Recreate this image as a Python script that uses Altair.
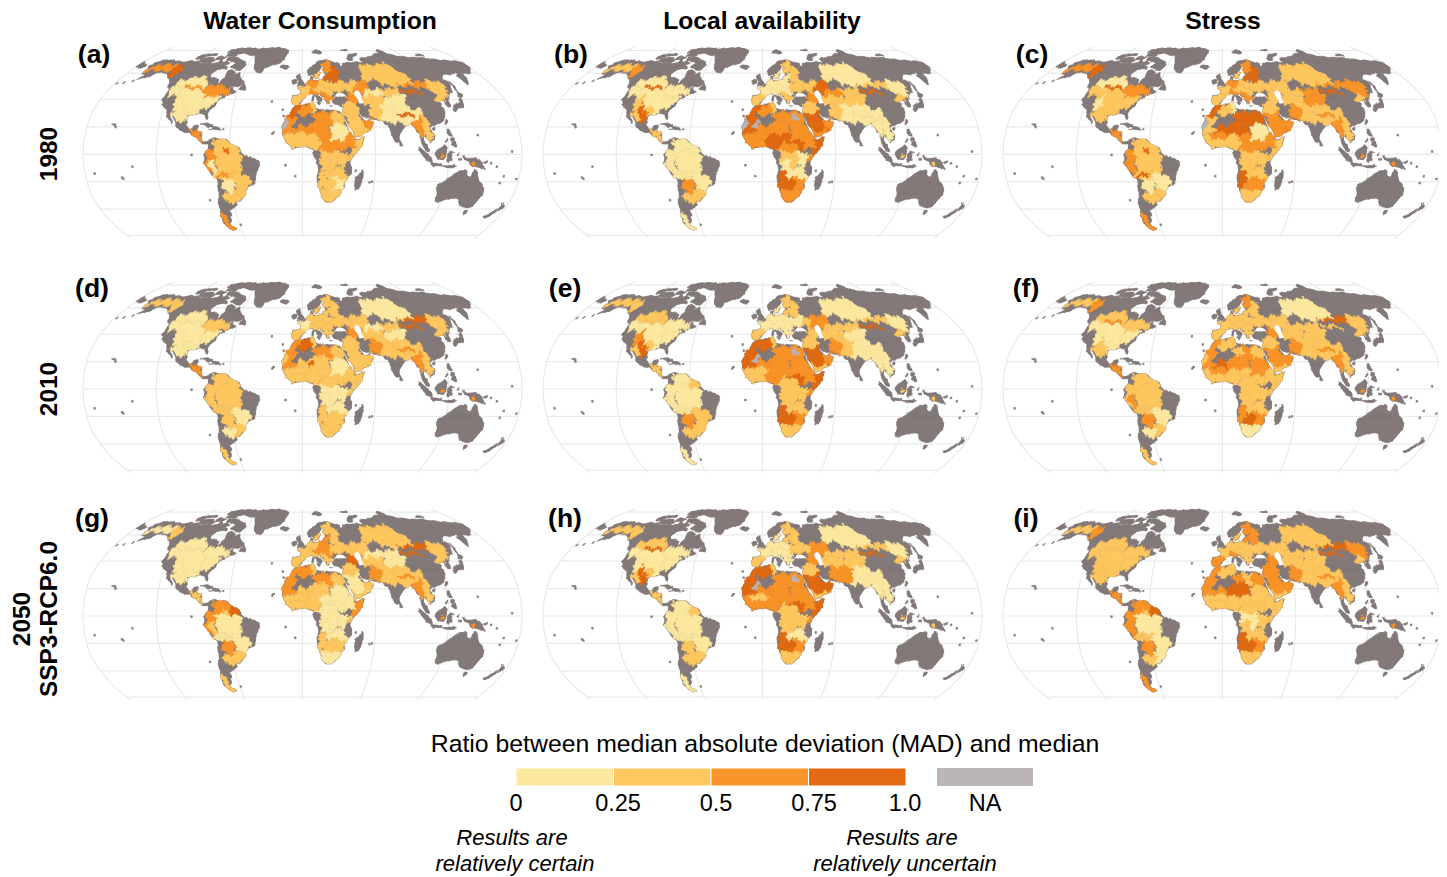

import numpy as np
import altair as alt

# ---- panel text -------------------------------------------------------------
COL_TITLES = ["Water Consumption", "Local availability", "Stress"]
PANEL_TAGS = ["(a)", "(b)", "(c)", "(d)", "(e)", "(f)", "(g)", "(h)", "(i)"]
LEGEND_TITLE = "Ratio between median absolute deviation (MAD) and median"
LEGEND_TICKS = ["0", "0.25", "0.5", "0.75", "1.0"]
CLASSES = ["0", "1", "2", "3", "n", "g"]
COLOURS = ["#FDE8A0", "#FEC760", "#FA9529", "#E26A12", "#BBB5B5", "#857A7A"]

# ---- Robinson table ---------------------------------------------------------
ROB_LAT = list(range(0, 95, 5))
ROB_PLEN = [1, .9986, .9954, .99, .9822, .973, .96, .9427, .9216, .8962, .8679, .835, .7986, .7597, .7186, .6732, .6213, .5722, .5322]
ROB_PDFE = [0, .062, .124, .186, .248, .31, .372, .434, .4958, .5571, .6176, .6769, .7346, .7903, .8435, .8936, .9394, .9761, 1]

def rob(lon, lat):
    a = abs(lat)
    x = 219.5 * float(np.interp(a, ROB_LAT, ROB_PLEN)) * lon / 180
    y = 110.5 * float(np.interp(a, ROB_LAT, ROB_PDFE)) * (1 if lat >= 0 else -1)
    return [round(x, 2), round(-y, 2)]

# ---- land outlines (lon, lat) ----------------------------------------------
LAND = [
 [(-168,65.5),(-164,66.5),(-166,68.5),(-157,71),(-150,70.5),(-141,69.7),(-135,69),(-128,70),(-120,69.5),(-115,68),(-108,68),(-102,68),(-95,68),(-94,72),(-90,69),(-85,69.5),(-81,68),(-86,66),(-87,64),(-92,62),(-94,59),(-92,57),(-86,55.5),(-82,55),(-82,52.5),(-79.5,51.5),(-79,54),(-77,56),(-78,59),(-78,62),(-73,62),(-70,61),(-69,58.5),(-65,60),(-61,56),(-57,53),(-56,51.5),(-60,50),(-66,50),(-70,47),(-65,49),(-65,47),(-61,46),(-64,44.5),(-66,44),(-70,43.5),(-70,41.7),(-74,40.6),(-75.5,38),(-76,35),(-78,34),(-81,32),(-81,30),(-80,27),(-80.5,25.2),(-82,26.5),(-83,29),(-85,29.7),(-89,30),(-90,29),(-94,29.5),(-97,28),(-97.5,25),(-97.8,22),(-96,19),(-94,18),(-91,18.8),(-90.5,21),(-87,21.5),(-88,18),(-88.5,16),(-84,15.8),(-83.3,15),(-83.5,11),(-82,9),(-80,9.3),(-77.5,8.7),(-78,7.5),(-80,7.5),(-83,8.2),(-85.5,10),(-87.5,13),(-91,14),(-94,16),(-97,15.8),(-102,18),(-105.5,20),(-105.5,22.5),(-109,26),(-112.5,30),(-114.7,31.5),(-112,27),(-109.5,23),(-112,25),(-115,28.5),(-117,32.5),(-120.5,34.5),(-122.5,37.5),(-124.3,40.5),(-124,46),(-123,49),(-127,51),(-130,54.5),(-133,57),(-137,58.5),(-140,60),(-146,61),(-151,60),(-153,58),(-158,56.5),(-163,55),(-158,58.5),(-162,59),(-165,61),(-165,63),(-161,64)],
 [(-62,66),(-66,62),(-72,63.5),(-78,65),(-74,68),(-80,70),(-88,71),(-88,73.5),(-80,73.5),(-72,71.5),(-68,70),(-62,67)],
 [(-117,69.5),(-105,68.5),(-101,70),(-105,73),(-114,73),(-118,71)],
 [(-125,72),(-118,72),(-116,74),(-122,76),(-125,74)],
 [(-90,76.5),(-78,76.5),(-72,78.5),(-62,82),(-70,83),(-85,82.5),(-92,81),(-90,79)],
 [(-92,74.5),(-80,74.5),(-80,75.5),(-92,76.5)],
 [(-118,75),(-105,75),(-105,76.5),(-118,76.5)],
 [(-102,71),(-94,71.5),(-90,73.5),(-100,74)],
 [(-96,78),(-86,78),(-88,81),(-94,81)],
 [(-87,63.5),(-80,63.5),(-82,65.5),(-86,65.5)],
 [(-59,48),(-56,51.5),(-53,48),(-53,46.7),(-59,47.5)],
 [(-128,50.5),(-125,50),(-123.5,48.5),(-125,48.7)],
 [(-73,78),(-68,76),(-58,75.5),(-54,70),(-52,65),(-48,61),(-43,60),(-40,65),(-25,68.5),(-22,71),(-20,75),(-18,80),(-25,82),(-32,83.5),(-50,82.5),(-62,81.5),(-68,80)],
 [(-24,65.5),(-22,64),(-18,63.4),(-14,65),(-16,66.4),(-22,66.3)],
 [(-85,22),(-80,23),(-75,20.5),(-74.5,20),(-78,20),(-82,22)],
 [(-74.5,19.8),(-70,19.8),(-68.5,18.5),(-71.5,18),(-74.5,18.3)],
 [(-78.4,18.4),(-76.3,18.2),(-77,17.7)],
 [(-67.2,18.5),(-65.6,18.4),(-65.8,17.9),(-67.2,18)],
 [(-160,22.2),(-157,21.6),(-155,20),(-155.8,18.9),(-156.5,20.5),(-158,21.2),(-160,21.8)],
 [(-180,69),(-173,67),(-170,66),(-173,64.5),(-180,65)],
 # South America
 [(-77.5,8.7),(-75.5,10.8),(-72,12),(-70,11.5),(-68,10.8),(-62,10.7),(-60,8.5),(-57,6),(-52,5),(-50,1),(-48,-1),(-44,-2.5),(-40,-3),(-36,-5),(-35,-8),(-38.5,-13),(-39,-18),(-41,-22),(-45,-23.5),(-48.5,-26),(-48.7,-28.5),(-52,-32.5),(-54,-34.5),(-58,-34.3),(-57,-37),(-62,-39),(-65,-41),(-65,-45),(-67.5,-46.5),(-66,-48),(-69,-51),(-68.5,-52.5),(-65,-55),(-69,-55.5),(-72,-54),(-75,-50),(-74,-45),(-73,-40),(-73.5,-37),(-71.5,-32),(-71,-28),(-70.5,-20),(-71,-18),(-76,-14),(-78,-10),(-81,-6),(-80,-3),(-81,-1),(-80,1),(-78,2.5),(-77.3,5),(-77.5,7)],
 # Africa
 [(-6,35.8),(-2,35.2),(3,36.8),(10,37.3),(11,34),(15,32.5),(20,31),(20,32.8),(25,32),(32,31.3),(34,28),(37,21),(39,15.5),(43,12),(44,10.5),(51,12),(49,7),(45,2),(41,-2),(39,-6),(40.5,-14),(35,-20),(35.5,-24),(32.8,-26),(32,-29),(27,-34),(20,-34.8),(18,-33),(15,-27),(12,-18),(13.5,-12),(12,-5),(9,-1),(9.7,3.5),(6,4.3),(2,6.3),(-4,5),(-8,4.4),(-13,8.5),(-17,14.7),(-16,19),(-17,21),(-13,27),(-10,30),(-9,33)],
 [(49.5,-12),(50.5,-16),(47.5,-25),(45,-25.5),(43.5,-22),(44.5,-16.5),(47,-15)],
 # Eurasia
 [(-5.5,36),(-9,37),(-9.5,39),(-9,43),(-2,43.5),(-1,46),(-4.7,48.5),(-1,49),(2,51),(4,52),(8,54),(8.5,57),(10.5,57.5),(10,54.5),(14,54),(19,54.5),(21,57),(24,59.3),(30,60),(23,60),(21,62),(25,65.5),(22,65.8),(17,62),(18,60),(16,56.5),(13,55.5),(11,59),(6,58),(5,62),(12,66),(17,69.5),(25,71),(31,70),(41,67.5),(40,65),(35,64.5),(37,63.5),(44,66),(44,68),(54,68.7),(60,69),(68,68.5),(67,72),(73,73),(80,73.5),(87,75.5),(100,78.5),(113,74.5),(128,73),(140,73),(160,70.5),(170,70),(180,69),(180,65),(177,62.5),(170,60),(163,60),(163,56),(157,51),(156,57),(160,61),(155,59.5),(143,59),(135,54.5),(140,54),(141,52),(137,46),(132,43),(129,40),(129.5,36),(126.5,34.5),(126,37),(125,39.5),(122,39),(118,39),(122,37),(120,35),(122,31),(121,28),(117,23.5),(110,21),(108,21.5),(106,19),(109,14),(109,11.5),(105,8.7),(105,10),(100.5,13.5),(99.5,10),(103.5,4),(104,1.5),(101,3),(98,8),(98,15),(95,16),(94,19),(91,22.5),(87,21.5),(82,16.5),(80,14),(80,10),(78,8.3),(76,10),(73,17),(72.5,21),(69,22),(67,25),(61,25.3),(57,26),(56,27),(51,28),(48.5,30),(48,29.5),(50,26.5),(51.5,25),(54,24),(56.3,26),(56.5,24.5),(59.5,22.5),(55,17),(45,13),(43,13),(42,17),(39,21),(35,28),(34.5,31.5),(36,36),(32,36),(28,36.6),(26.5,39),(29,41),(35,42),(41,41.5),(37,45),(33,46),(28,42),(26,40.5),(23,40),(24,38),(22.5,36.5),(19.5,41),(13.5,45.5),(12.5,44),(18,40.5),(16,38),(12,42),(8.5,44.3),(3.5,43.5),(0,39.5),(-2,36.8)],
 [(-5.5,50),(1,51),(1.5,52.8),(-1.5,55),(-2,57.5),(-3.5,58.6),(-6,58),(-5,55),(-3,53.5),(-5,52),(-3,51.3)],
 [(-10,52),(-6,52),(-6,55),(-8.5,55),(-10,54)],
 [(8.3,39),(9.7,39),(9.7,43),(8.6,42)],
 [(12.5,38),(15.5,38.2),(15,36.7)],
 [(23.5,35.6),(26.3,35.3),(24,35)],
 [(32.5,35),(34.5,35.6),(33.5,34.6)],
 [(12,78),(20,76.7),(25,78),(22,80),(15,80)],
 [(52,71),(57,70.7),(60,74),(68,76.5),(65,77),(55,75),(52,72.5)],
 [(95,79),(105,78),(100,81)],
 [(137,75),(148,75),(145,76.5)],
 [(50,80),(60,80),(58,81.5)],
 [(142,54),(143,50),(143,46),(142,46.5),(142,50)],
 [(131,34),(136,34),(140,35),(142,39.5),(141,41.5),(139.5,38.5),(136,36.5),(132,35.5)],
 [(140,42),(143,42),(145.5,43.5),(142,45.5),(141,43.5)],
 [(130,31.5),(130,33.5),(132,33.5),(134.5,34),(134,33),(131.5,31)],
 [(120,23),(121,25),(122,25),(121,22)],
 [(108.7,19),(110.5,20),(110.5,18.5),(109,18.2)],
 [(80,9.5),(82,7.5),(81,6),(80,6.2)],
 [(120,16),(120.5,18.5),(122,18.5),(122,16),(124,13),(121,13.8)],
 [(122,7),(124,9),(126,9.5),(126.5,6.5),(125,5.8)],
 [(122,10),(125,12.5),(125.5,10.5),(123,9.2)],
 [(117.5,8.5),(119.5,11.5),(120,11),(118,8.5)],
 [(109,1.5),(111,2),(114,4.5),(117,7),(119,5),(118,2),(117.5,0),(116,-4),(111,-3.5),(109.5,-1)],
 [(95.5,5.5),(98,4),(104,-1.5),(106,-3),(106,-6),(102,-4.5),(99,-1),(96,3)],
 [(105.5,-6.5),(110,-6.5),(114.5,-7.7),(114.5,-8.7),(106,-7.6)],
 [(115,-8.5),(120,-8.3),(125,-8.3),(127,-8.5),(124,-10),(119,-9.5)],
 [(119,-5.5),(119,0.5),(121,1.3),(125,1.5),(121,0),(123,-1),(121,-2.5),(123,-5),(121,-4)],
 [(127,-1),(128.5,1.5),(128,-1)],
 [(128,-3),(130.5,-3),(130.5,-3.8),(128,-3.6)],
 [(131,-1),(135,-3.5),(141,-2.5),(147,-6),(150.5,-10.5),(147,-10),(143,-9),(138,-8),(138,-5.5),(133,-4)],
 [(148,-6),(152,-4.5),(152,-6)],
 [(114,-22),(122,-18),(126,-14),(130,-12),(136,-12),(136,-15),(140,-17.5),(142,-11),(145,-15),(147,-19),(153,-25),(153,-30),(150,-37),(146,-39),(143,-38.7),(140,-38),(136,-35),(135,-33),(131,-31.5),(124,-33),(120,-34),(115,-34.5),(115,-30),(113.5,-26)],
 [(144.7,-41),(148,-41),(148,-43),(146,-43.5)],
 [(166.5,-46),(171,-42),(173,-40.7),(174.3,-42),(171,-45),(169,-46.7)],
 [(173,-35),(175.5,-37),(178.5,-38),(175.5,-41.5),(174,-39.5),(175,-37.5)],
]
SMALL_ISLANDS = [(-150,-17),(-172,-14),(178,-18),(-91,-0.5),(-59,-51.7),(-24,16),(-16,28),(-27,38.5),(56,-20.5),(44,-12),(165,-21),(160,-9),(167,-16),(-172,52.5),(-178,52),(-165,54),(-80,-33.5),(-149,-17.8),(-140,-9),(-25,15),(-17,32.5),(58,-20),(-14,-8),(-6,-15.9),(155,-6.5),(172,2),(145,14)]
WATER = [[(47.5,45.5),(51,46.8),(53,44),(52.5,41),(54,37.5),(50,37),(49.5,40),(47.5,43)]]

# ---- basins, painted in order; codes read panel a..i ------------------------
BASINS = [
 ("yukon","212111011",[(-166,61),(-166,64),(-155,66.5),(-142,67),(-136,66),(-136,61),(-145,62),(-155,62.5)]),
 ("mackenzie","323112112",[(-137,67),(-128,66),(-127,60),(-130,57),(-135,58),(-137,62)]),
 ("nelson","000011011",[(-122,50),(-118,54),(-108,56),(-100,57.5),(-92,55),(-91,48),(-100,48),(-112,48)]),
 ("missouri","001000001",[(-122,50),(-122,42),(-112,36),(-100,33),(-88,33),(-87,41),(-91,48),(-112,48)]),
 ("columbia","001000001",[(-122,50),(-122,42),(-112,42),(-112,49)]),
 ("border","233012031",[(-112,48.6),(-93,48),(-93,49.3),(-112,49.8)]),
 ("lakes","202101001",[(-92,48),(-85,50.5),(-78,50.5),(-70,49),(-65,48),(-68,45),(-75,43),(-80,41),(-87,41)]),
 ("ohio","001000001",[(-90,36),(-87,41),(-78,43),(-74,41),(-76,38),(-80,36),(-85,33),(-88,32)]),
 ("lower_miss","001000001",[(-100,33),(-88,33),(-88,29),(-94,28),(-98,30)]),
 ("texas","011010011",[(-104,34),(-95,34),(-94,29),(-98,26),(-101,28)]),
 ("colorado","010020001",[(-114,32),(-113,40),(-107,43),(-105,37),(-108,31)]),
 ("riogrande","031031031",[(-108,31),(-105,37),(-103,33),(-98,28),(-97,25),(-103,24)]),
 ("greatbasin","ggggggggg",[(-125,33),(-125,42),(-115,42),(-112,38),(-114,33)]),
 ("yaqui","011011011",[(-112,30),(-106,31),(-104,24),(-108,24)]),
 ("centam","212212112",[(-93,18),(-88,17.5),(-84,15),(-83,10),(-85,9.5),(-92,14)]),
 # South America
 ("amazon_c","101101000",[(-72,2),(-52,2),(-50,-4),(-51,-14),(-60,-16),(-70,-14)]),
 ("guiana_w","101101202",[(-74,8),(-72,11),(-62,11),(-58,6),(-64,1),(-72,2)]),
 ("guiana_e","101111313",[(-60,7),(-51,6),(-50,1),(-56,0.5),(-60,2)]),
 ("amazon_w","202101202",[(-78,3),(-72,3),(-72,-7),(-70,-14),(-76,-14),(-80,-5)]),
 ("peru","002102102",[(-78,-5),(-73,-5),(-69,-17),(-73,-15)]),
 ("orinoco_c","303101101",[(-64,5),(-60,5),(-60,1.5),(-64,1.5)]),
 ("madeira_s","101101001",[(-72,-13),(-58,-13),(-58,-20),(-66,-21),(-70,-18)]),
 ("bolivia","203101001",[(-70,-17),(-60,-15),(-60,-13.5),(-70,-15)]),
 ("parana_n","100010000",[(-58,-15),(-51,-13),(-45,-17),(-42,-22),(-48,-26),(-55,-26),(-57,-21)]),
 ("paraguay","020122212",[(-66,-18),(-58,-18),(-57,-26),(-62,-30),(-67,-26)]),
 ("chaco","111010111",[(-68,-28),(-62,-30),(-57,-26),(-56,-31),(-60,-35),(-66,-35)]),
 ("uruguay","111111110",[(-57,-26),(-48,-26),(-49,-31),(-54,-35),(-60,-35),(-56,-31)]),
 ("patagonia","202101102",[(-74,-42),(-71,-42),(-70,-48),(-67,-52),(-65,-55),(-70,-56),(-75,-50)]),
 # Africa
 ("morocco","333232232",[(-18,27),(-10,36),(-2,36),(-2,31),(-8,27),(-13,26)]),
 ("mauritania","231232232",[(-18,15),(-18,27),(-8,27),(-3,25),(-5,18),(-10,15)]),
 ("algeria","221331231",[(-2,36),(8,37),(8,30),(2,28),(-4,29),(-2,31)]),
 ("tunis","110111111",[(8,37),(11,37),(12,30),(8,30)]),
 ("libya_w","223221222",[(12,31),(18,30),(18,22),(10,22),(9,28)]),
 ("libya_e","223222221",[(18,31),(25,31),(25,22),(18,22)]),
 ("egypt","123121122",[(25,31),(34,31),(36,22),(25,22)]),
 ("egypt_na","1n31n11n2",[(26,24),(26,29),(30,29),(30,24)]),
 ("nile","020022021",[(25,22),(37,22),(38,15),(34,10),(24,10),(23,15)]),
 ("mali","223123122",[(-10,15),(-5,18),(-3,24),(4,21),(5,15),(3,12),(-8,12)]),
 ("sahel_w","122112111",[(-12,11),(-12,15),(-3,16),(5,15),(3,11),(-5,10)]),
 ("niger","223122123",[(4,21),(10,25),(16,24),(23,22),(23,15),(14,14),(5,15)]),
 ("air","223322123",[(6,17),(6,20),(10,20),(10,17)]),
 ("chad","232121021",[(14,14),(23,15),(24,10),(16,8),(13,10)]),
 ("wacoast","121111121",[(-18,10),(-18,15),(-12,14),(-5,10),(3,11),(3,4),(-8,3)]),
 ("nigeria","131121121",[(3,4),(3,11),(5,15),(14,14),(13,10),(16,8),(13,4)]),
 ("ssudan","232131031",[(16,8),(24,10),(34,10),(35,4),(27,3),(18,4)]),
 ("ethiopia","222121021",[(34,10),(38,15),(44,12),(43,6),(36,3),(35,4)]),
 ("somalia","131131231",[(44,12),(52,12.5),(50,5),(42,-2),(40,1),(41,4),(43,6)]),
 ("congo","111011010",[(14,4),(27,3),(31,2),(31,-8),(22,-11),(15,-6)]),
 ("ubangi","222111011",[(14,4),(16,8),(24,9),(30,4),(27,2),(18,2)]),
 ("kasai","101011011",[(15,-5),(22,-4),(24,-11),(20,-13),(15,-12)]),
 ("zambezi","101011001",[(20,-12),(33,-9),(36,-12),(38,-18),(34,-21),(22,-18),(20,-14)]),
 ("rift","101011011",[(29,2),(35,1),(38,-1),(36,-8),(33,-9),(29,-8)]),
 ("kenya_c","121121121",[(38,-1),(42,-2),(41,-5),(38,-5)]),
 ("kenya_g","ggggggggg",[(35,1),(36,3),(41,4),(41,0),(38,-1)]),
 ("tanz_g","ggggggggg",[(34,-8),(38,-4.5),(41,-6),(41,-12),(36,-12),(34,-10)]),
 ("namibia","133132133",[(13,-24),(14,-13),(20,-13),(20,-18),(18,-24)]),
 ("kalahari","132133133",[(18,-24),(20,-18),(26,-17),(28,-22),(26,-26),(20,-27)]),
 ("limpopo","022122122",[(26,-17),(34,-18),(36,-24),(32,-27),(26,-26),(28,-22)]),
 ("orange","121110011",[(14,-24),(20,-27),(26,-26),(32,-27),(33,-30),(28,-35),(18,-35),(15,-28)]),
 ("sah_g","ggggggggg",[(-5,23),(-4,27),(6,28),(10,25),(4,21),(0,21)]),
 ("sah_na","gnggnggng",[(-8,20),(-6,24),(-2,24),(-3,20)]),
 ("coast_na","nnn131232",[(-18,19),(-18,25),(-13,25),(-13,19)]),
 # Europe
 ("iberia","111111112",[(-10,36),(-10,44.5),(3,44),(1,38),(-3,36)]),
 ("france","101001101",[(-5,44),(-5,49),(3,51),(8,48),(7,44),(3,43)]),
 ("germany","202101101",[(3,51),(9,55),(15,55),(15,50),(8,47),(8,48)]),
 ("po","202101102",[(7,44),(8,47),(14,47),(14,44.5),(10,43)]),
 ("danube","101101201",[(8,47),(15,50),(24,49),(29,46),(29,43),(22,44),(14,44.5),(14,47)]),
 ("balkan","212101101",[(14,45),(22,44),(27,42),(24,37),(20,39)]),
 ("poland","101101201",[(15,50),(15,55),(25,56),(26,51),(24,49)]),
 ("balt","303111212",[(21,55),(21,59.5),(28,59.5),(28,55)]),
 ("karelia","313111112",[(28,53),(28,60),(33,66),(37,62),(36,56),(33,53)]),
 ("dnieper","111101111",[(24,49),(26,51),(33,54),(38,53),(39,47),(29,45)]),
 ("don","111111111",[(38,53),(45,53),(45,46),(39,46),(39,47)]),
 ("sweden","101101101",[(13,56),(13,60),(19,62),(19,57)]),
 ("finland","212112112",[(21,61),(21,69),(29,70),(31,64),(29,61)]),
 ("volga","111121121",[(45,53),(52,54),(54,46),(47,44),(43,45),(45,46)]),
 ("caucasus","221212322",[(39,41),(43,45),(47,44),(52,40),(48,38),(42,38)]),
 ("levant","111111112",[(34,30),(34,37),(42,38),(48,38),(48,31),(42,28)]),
 ("arabia","132132032",[(35,29),(42,29.5),(48,31),(49,24),(52,22),(55,18),(45,16),(41,18)]),
 ("oman","222122132",[(52,22),(49,24),(52,25),(57,27),(60,22),(55,17)]),
 ("yemen","122111111",[(43,12),(41,18),(45,16),(55,18),(52,14)]),
 # Asia
 ("helmand","112222222",[(58,27),(58,37),(67,36),(69,29),(66,25)]),
 ("amu","111111111",[(52,37),(52,43),(60,44),(72,42),(73,36),(67,36),(58,37)]),
 ("syr","021011011",[(55,42),(55,47),(72,48),(74,42),(60,44)]),
 ("ural","231121121",[(47,46),(52,54),(60,54),(62,47),(55,47),(54,44)]),
 ("siberia","101000101",[(60,54),(60,62),(64,68),(72,66),(80,66.5),(88,68.5),(95,66),(100,60),(107,57),(105,52),(95,51),(88,50),(76,48),(74,55)]),
 ("kz_g","ggggggggg",[(62,50),(70,51),(84,50),(84,47.5),(72,48.5),(64,48)]),
 ("balkhash","112111011",[(72,48),(84,47.5),(88,50),(90,45),(82,42),(74,42)]),
 ("tarim","012001011",[(74,42),(82,42),(90,45),(93,42),(90,37),(78,35),(73,36)]),
 ("indus","001111121",[(66,25),(69,29),(67,36),(73,36),(78,35),(78,30),(74,24),(68,23)]),
 ("himal","001101101",[(78,35),(90,37),(92,33),(100,33),(104,28),(97,26),(86,27),(78,28)]),
 ("ganges","001101101",[(74,24),(78,30),(86,27),(97,26),(92,22),(86,21),(80,23)]),
 ("streak","302202202",[(80,28.5),(90,27.5),(95,28),(95,29.5),(85,30)]),
 ("salween","202202202",[(92,23),(97,26),(100,28),(101,20),(99,13),(97,16),(94,16)]),
 ("mekong","101101101",[(100,28),(104,28),(106,22),(108,13),(105,9),(100,14),(101,20)]),
 ("mong_n","212313313",[(88,50),(95,51),(105,52),(118,54),(125,50),(118,48),(105,49),(95,49.5)]),
 ("mong_g","ggggggggg",[(90,44),(93,49.5),(105,49),(112,46),(108,43),(96,43)]),
 ("mong_s","333331333",[(91,46),(100,47),(109,45.5),(109,44),(100,45.2),(91,44.5)]),
 ("amur","102101102",[(118,54),(128,54),(135,50),(134,46),(128,42),(122,44),(118,48)]),
 ("liao","111111111",[(119,38),(119,43),(126,43),(126,39)]),
 ("kalimantan","212212212",[(113,-3.5),(113,-0.5),(116,-0.5),(116,-3.5)]),
 ("papua","212212212",[(140,-8),(140,-5),(143,-5),(143,-8)]),
]

# ---- rasterise the basins onto the land --------------------------------------
STEP = 0.75
LONS = np.arange(-180, 180, STEP) + STEP / 2
LATS = np.arange(-60, 85, STEP) + STEP / 2
GX, GY = np.meshgrid(LONS, LATS)
# sampling offsets that roughen the hand-drawn straight edges into irregular ones
WX = np.sin(0.7 * GY + 1.3 * np.sin(0.31 * GX)) + 0.55 * np.sin(1.9 * GY + 0.6 * GX) + 0.35 * np.sin(3.7 * GY - 2.3 * GX)
WY = np.sin(0.6 * GX + 1.1 * np.sin(0.27 * GY)) + 0.55 * np.sin(1.7 * GX - 0.8 * GY) + 0.35 * np.sin(3.1 * GX + 2.9 * GY)

def inside(poly, amp):
    X, Y = GX + amp * WX, GY + amp * WY
    p = np.array(poly, dtype=float)
    res = np.zeros(GX.shape, dtype=bool)
    x0, y0 = p[:, 0], p[:, 1]
    x1, y1 = np.roll(x0, -1), np.roll(y0, -1)
    sub = (X >= x0.min()) & (X <= x0.max()) & (Y >= y0.min()) & (Y <= y0.max())
    if not sub.any():
        return res
    sx, sy = X[sub], Y[sub]
    c = np.zeros(sx.shape, dtype=bool)
    for a, b, cc, d in zip(x0, y0, x1, y1):
        if b == d:
            continue
        m = (b > sy) != (d > sy)
        c ^= m & (sx < (cc - a) * (sy - b) / (d - b) + a)
    res[sub] = c
    return res

land_mask = np.zeros(GX.shape, dtype=bool)
for poly in LAND:
    land_mask |= inside(poly, 0.55)
for poly in WATER:
    land_mask &= ~inside(poly, 0)

owner = -np.ones(GX.shape, dtype=int)
for i, (_, _, poly) in enumerate(BASINS):
    owner[inside(poly, 1.1) & land_mask] = i

def runs_of(mask):
    runs = []
    for r in range(mask.shape[0]):
        idx = np.flatnonzero(mask[r])
        if idx.size == 0:
            continue
        start = prev = idx[0]
        for j in list(idx[1:]) + [None]:
            if j is None or j != prev + 1:
                runs.append((float(LONS[start] - STEP / 2), float(LONS[prev] + STEP / 2),
                             float(LATS[r] - STEP / 2), float(LATS[r] + STEP / 2)))
                start = j
            prev = j
    return runs

basin_runs = [runs_of(owner == i) for i in range(len(BASINS))]
land_runs = runs_of(land_mask)

CX = [302.5, 762.5, 1222.5]
CY = [154.3, 389.0, 616.0]

def panel_pt(k, lon, lat):
    x, y = rob(lon, lat)
    return [round(x + CX[k % 3] - 8, 2), round(y + CY[k // 3] - 8, 2)]

def ring(k, poly):
    pts = [panel_pt(k, a, b) for a, b in poly]
    return pts + [pts[0]]

def polygon_feature(k, poly):
    return {"type": "Feature", "geometry": {"type": "Polygon", "coordinates": [ring(k, poly)]}}

def boxes(k, runs):
    return [[ring(k, [(a, c), (b, c), (b, d), (a, d)])] for a, b, c, d in runs]

def land_features(k):
    out = [polygon_feature(k, p) for p in LAND]
    d = 0.7
    for lo, la in SMALL_ISLANDS:
        out.append(polygon_feature(k, [(lo-d, la-d), (lo+d, la-d), (lo+d, la+d), (lo-d, la+d)]))
    out.append({"type": "Feature", "geometry": {"type": "MultiPolygon", "coordinates": boxes(k, land_runs)}})
    return out

def grat_features(k):
    out = []
    for la in range(-60, 81, 20):
        out.append({"type": "Feature", "geometry": {"type": "LineString", "coordinates": [panel_pt(k, float(lo), la) for lo in range(-180, 181, 20)]}})
    for lo in range(-180, 181, 60):
        out.append({"type": "Feature", "geometry": {"type": "LineString", "coordinates": [panel_pt(k, lo, float(la)) for la in range(-62, 85, 2)]}})
    return out

def cell_features(k):
    out = []
    for (name, code, _), runs in zip(BASINS, basin_runs):
        if runs:
            out.append({"type": "Feature", "geometry": {"type": "MultiPolygon", "coordinates": boxes(k, runs)}, "c": code[k]})
    return out

# ---- layers -----------------------------------------------------------------
layers = []
color_scale = alt.Scale(domain=CLASSES, range=COLOURS)
PROJ = dict(type="identity", scale=1, translate=[0, 0])
for k in range(9):
    layers.append(alt.Chart(alt.Data(values=grat_features(k))).mark_geoshape(filled=False, stroke="#EAEAEA", strokeWidth=1.2).project(**PROJ))
    layers.append(alt.Chart(alt.Data(values=land_features(k))).mark_geoshape(fill="#857A7A", stroke="#857A7A", strokeWidth=0.5).project(**PROJ))
    layers.append(alt.Chart(alt.Data(values=cell_features(k))).mark_geoshape(strokeWidth=0.35).encode(
        color=alt.Color("c:N", scale=color_scale, legend=None),
        stroke=alt.Stroke("c:N", scale=color_scale, legend=None)).project(**PROJ))
    layers.append(alt.Chart(alt.Data(values=[polygon_feature(k, p) for p in WATER])).mark_geoshape(fill="white", stroke="white", strokeWidth=0.3).project(**PROJ))

def text(s, x, y, size, weight="normal", style="normal", angle=0):
    return alt.Chart(alt.Data(values=[{"t": s}])).mark_text(
        font="Liberation Sans", fontSize=size, fontWeight=weight, fontStyle=style, angle=angle,
        align="center", baseline="middle", color="black").encode(
        text="t:N", x=alt.value(x - 8), y=alt.value(y - 8))

for s, x in zip(COL_TITLES, [320, 762, 1223]):
    layers.append(text(s, x, 22, 24.7, "bold"))
TAG_X = [94, 571, 1032, 92, 565, 1026, 92, 565, 1026]
TAG_Y = [55, 55, 55, 289, 289, 289, 519, 519, 519]
for s, x, y in zip(PANEL_TAGS, TAG_X, TAG_Y):
    layers.append(text(s, x, y, 26.5, "bold"))
layers.append(text("1980", 50, 154, 24.4, "bold", angle=270))
layers.append(text("2010", 50, 389, 24.4, "bold", angle=270))
layers.append(text("2050", 23, 619, 24.4, "bold", angle=270))
layers.append(text("SSP3-RCP6.0", 50, 619, 24.4, "bold", angle=270))

LEG_LO = [0, 0.25, 0.5, 0.75]
LEG_HI = [0.25, 0.5, 0.75, 1.0]
leg_rows = [{"lo": a, "hi": b, "c": c} for a, b, c in zip(LEG_LO, LEG_HI, CLASSES)]
layers.append(alt.Chart(alt.Data(values=leg_rows)).mark_rect(stroke="white", strokeWidth=1).encode(
    x=alt.X("lo:Q", scale=alt.Scale(domain=[0, 1], range=[508, 898]), axis=None),
    x2="hi:Q", y=alt.value(760), y2=alt.value(778),
    color=alt.Color("c:N", scale=color_scale, legend=None)))
layers.append(alt.Chart(alt.Data(values=[{"c": "n"}])).mark_rect().encode(
    x=alt.value(929), x2=alt.value(1025), y=alt.value(760), y2=alt.value(778),
    color=alt.Color("c:N", scale=color_scale, legend=None)))
layers.append(text(LEGEND_TITLE, 765, 745, 24.8))
for s, x in zip(LEGEND_TICKS + ["NA"], [516, 618, 716, 814, 905, 985]):
    layers.append(text(s, x, 804, 23.5))
layers.append(text("Results are", 512, 838, 22, style="italic"))
layers.append(text("relatively certain", 515, 864, 22, style="italic"))
layers.append(text("Results are", 902, 838, 22, style="italic"))
layers.append(text("relatively uncertain", 905, 864, 22, style="italic"))

chart = alt.layer(*layers).properties(width=1431, height=869, padding=0, autosize=alt.AutoSizeParams(type="none")).configure_view(strokeWidth=0)
chart.save("out.html", embed_options={"renderer": "svg", "actions": False})
